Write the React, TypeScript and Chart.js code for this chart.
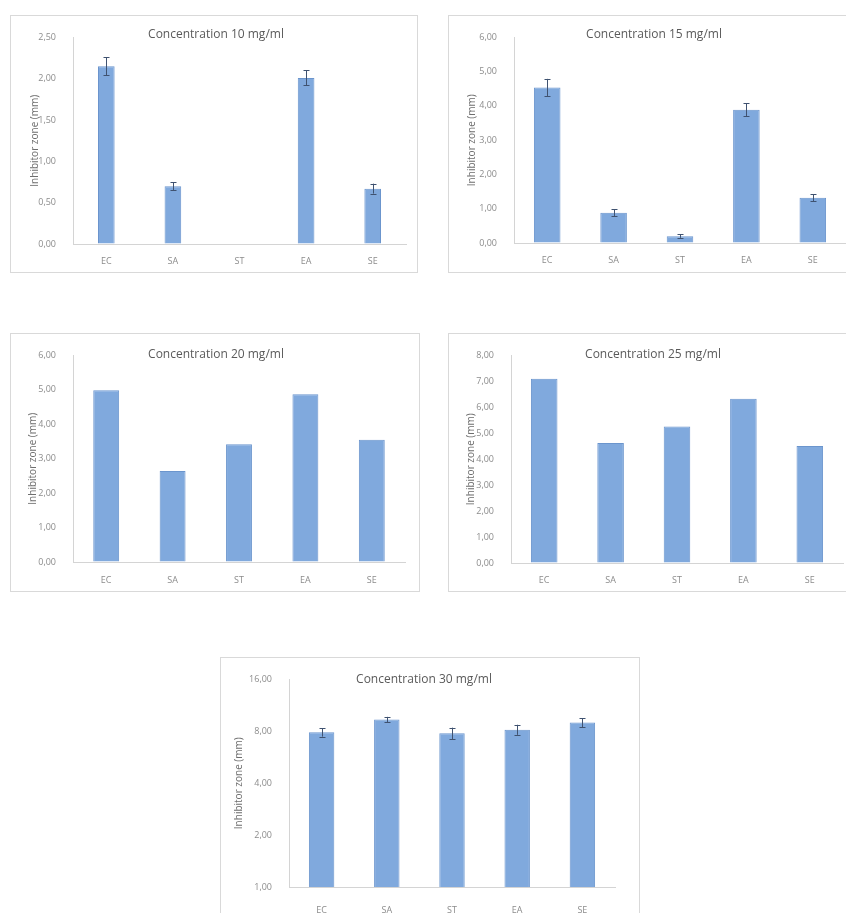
import React, { useEffect, useRef } from "react";
import { Chart, registerables } from "chart.js";

Chart.register(...registerables);

const categories = ["EC", "SA", "ST", "EA", "SE"];

const title10 = "Concentration 10 mg/ml";
const values10 = [2.15, 0.7, 0, 2.01, 0.67];
const errors10 = [0.11, 0.05, 0, 0.09, 0.06];
const ticks10 = [0, 0.5, 1, 1.5, 2, 2.5];

const title15 = "Concentration 15 mg/ml";
const values15 = [4.54, 0.88, 0.2, 3.89, 1.32];
const errors15 = [0.25, 0.1, 0.05, 0.19, 0.1];
const ticks15 = [0, 1, 2, 3, 4, 5, 6];

const title20 = "Concentration 20 mg/ml";
const values20 = [4.99, 2.64, 3.42, 4.87, 3.55];
const ticks20 = [0, 1, 2, 3, 4, 5, 6];

const title25 = "Concentration 25 mg/ml";
const values25 = [7.1, 4.62, 5.26, 6.33, 4.51];
const ticks25 = [0, 1, 2, 3, 4, 5, 6, 7, 8];

const title30 = "Concentration 30 mg/ml";
const values30 = [7.9, 9.35, 7.8, 8.18, 9.0];
const errors30 = [0.45, 0.35, 0.6, 0.55, 0.55];
const ticks30 = [1, 2, 4, 8, 16];

const yAxisTitle = "Inhibitor zone (mm)";

const fmt = (v: number) => v.toFixed(2).replace(".", ",");

type Layout = {
  left: number;
  top: number;
  width: number;
  height: number;
  plotLeft: number;
  plotTop: number;
  plotRight: number;
  plotBottom: number;
  titleX: number;
  titleY: number;
  yTitlePad: number;
  xTickPad: number;
  barPct: number;
};

type PanelProps = {
  title: string;
  values: number[];
  errors: number[] | null;
  ticks: number[];
  log?: boolean;
  layout: Layout;
};

const errorBarPlugin = {
  id: "errorBars",
  afterDatasetsDraw(chart: any, _args: any, opts: any) {
    const errs: number[] | null = opts && opts.errors;
    if (!errs) return;
    const ctx = chart.ctx;
    const yScale = chart.scales.y;
    const meta = chart.getDatasetMeta(0);
    const vals = chart.data.datasets[0].data as number[];
    ctx.save();
    ctx.strokeStyle = "#3f5270";
    ctx.lineWidth = 1;
    meta.data.forEach((el: any, i: number) => {
      const e = errs[i];
      if (!e) return;
      const v = vals[i];
      const x = Math.round(el.x) + 0.5;
      const yTop = yScale.getPixelForValue(v + e);
      const yBot = yScale.getPixelForValue(Math.max(v - e, yScale.min));
      ctx.beginPath();
      ctx.moveTo(x, yTop);
      ctx.lineTo(x, yBot);
      ctx.moveTo(x - 3, Math.round(yTop) + 0.5);
      ctx.lineTo(x + 3, Math.round(yTop) + 0.5);
      ctx.moveTo(x - 3, Math.round(yBot) + 0.5);
      ctx.lineTo(x + 3, Math.round(yBot) + 0.5);
      ctx.stroke();
    });
    ctx.restore();
  },
};

function Panel({ title, values, errors, ticks, log, layout }: PanelProps) {
  const ref = useRef<HTMLCanvasElement | null>(null);
  useEffect(() => {
    if (!ref.current) return;
    const L = layout;
    const chart = new Chart(ref.current, {
      type: "bar",
      data: {
        labels: categories,
        datasets: [
          {
            data: values,
            backgroundColor: "rgba(121,164,219,0.95)",
            borderColor: "#6b95cd",
            borderWidth: 1,
            barPercentage: L.barPct,
            categoryPercentage: 1,
          },
        ],
      },
      options: {
        animation: false,
        responsive: false,
        maintainAspectRatio: false,
        layout: {
          padding: {
            left: 0,
            top: L.plotTop,
            right: L.width - L.plotRight,
            bottom: 0,
          },
        },
        plugins: {
          legend: { display: false },
          tooltip: { enabled: false },
          title: { display: false },
          errorBars: { errors },
        } as any,
        scales: {
          x: {
            grid: { display: true, drawOnChartArea: false, drawTicks: false },
            border: { display: true, color: "#d4d4d4", width: 1 },
            ticks: {
              color: "#8c8c8c",
              font: { size: 9, family: "'Open Sans', sans-serif" },
              padding: L.xTickPad,
              maxRotation: 0,
            },
            afterFit: (s: any) => {
              s.height = L.height - L.plotBottom;
            },
          },
          y: {
            type: log ? "logarithmic" : "linear",
            min: ticks[0],
            max: ticks[ticks.length - 1],
            grid: { display: true, drawOnChartArea: false, drawTicks: false },
            border: { display: true, color: "#d4d4d4", width: 1 },
            ticks: {
              color: "#8c8c8c",
              font: { size: 9, family: "'Open Sans', sans-serif" },
              padding: 17,
              callback: (v: any) => fmt(Number(v)),
            },
            afterBuildTicks: (s: any) => {
              s.ticks = ticks.map((v) => ({ value: v }));
            },
            title: {
              display: true,
              text: yAxisTitle,
              color: "#6e6e6e",
              font: { size: 10, family: "'Open Sans', sans-serif" },
              padding: { top: L.yTitlePad, bottom: 0 },
            },
            afterFit: (s: any) => {
              s.width = L.plotLeft;
            },
          } as any,
        },
      },
      plugins: [errorBarPlugin],
    });
    return () => chart.destroy();
  }, []);

  const L = layout;
  return (
    <div
      style={{
        position: "absolute",
        left: L.left,
        top: L.top,
        width: L.width,
        height: L.height,
        boxSizing: "border-box",
        border: "1px solid #d9d9d9",
        background: "transparent",
      }}
    >
      <canvas
        ref={ref}
        width={L.width}
        height={L.height}
        style={{ position: "absolute", left: -1, top: -1, width: L.width, height: L.height }}
      />
      <div
        style={{
          position: "absolute",
          left: L.titleX - 150,
          width: 300,
          top: L.titleY - 9,
          height: 18,
          lineHeight: "18px",
          textAlign: "center",
          fontFamily: "'Open Sans', sans-serif",
          fontSize: 12,
          color: "#5a5a5a",
          whiteSpace: "nowrap",
        }}
      >
        {title}
      </div>
    </div>
  );
}

const layout10: Layout = {
  left: 10, top: 15, width: 408, height: 258,
  plotLeft: 63, plotTop: 14, plotRight: 396, plotBottom: 229,
  titleX: 205, titleY: 18, yTitlePad: 19, xTickPad: 12, barPct: 0.25,
};
const layout15: Layout = {
  left: 448, top: 15, width: 410, height: 258,
  plotLeft: 66, plotTop: 15, plotRight: 398, plotBottom: 228,
  titleX: 205, titleY: 18, yTitlePad: 18, xTickPad: 12, barPct: 0.4,
};
const layout20: Layout = {
  left: 10, top: 333, width: 410, height: 259,
  plotLeft: 63, plotTop: 12, plotRight: 395, plotBottom: 229,
  titleX: 205, titleY: 20, yTitlePad: 17, xTickPad: 13, barPct: 0.39,
};
const layout25: Layout = {
  left: 448, top: 333, width: 410, height: 259,
  plotLeft: 63, plotTop: 10, plotRight: 395, plotBottom: 230,
  titleX: 204, titleY: 20, yTitlePad: 17, xTickPad: 12, barPct: 0.4,
};
const layout30: Layout = {
  left: 220, top: 657, width: 420, height: 262,
  plotLeft: 69, plotTop: 15, plotRight: 395, plotBottom: 230,
  titleX: 203, titleY: 21, yTitlePad: 13, xTickPad: 18, barPct: 0.39,
};

export default function App() {
  return (
    <div
      style={{
        position: "absolute",
        left: 0,
        top: 0,
        width: 846,
        height: 913,
        overflow: "hidden",
        background: "#ffffff",
      }}
    >
      <Panel title={title10} values={values10} errors={errors10} ticks={ticks10} layout={layout10} />
      <Panel title={title15} values={values15} errors={errors15} ticks={ticks15} layout={layout15} />
      <Panel title={title20} values={values20} errors={null} ticks={ticks20} layout={layout20} />
      <Panel title={title25} values={values25} errors={null} ticks={ticks25} layout={layout25} />
      <Panel title={title30} values={values30} errors={errors30} ticks={ticks30} log layout={layout30} />
    </div>
  );
}
